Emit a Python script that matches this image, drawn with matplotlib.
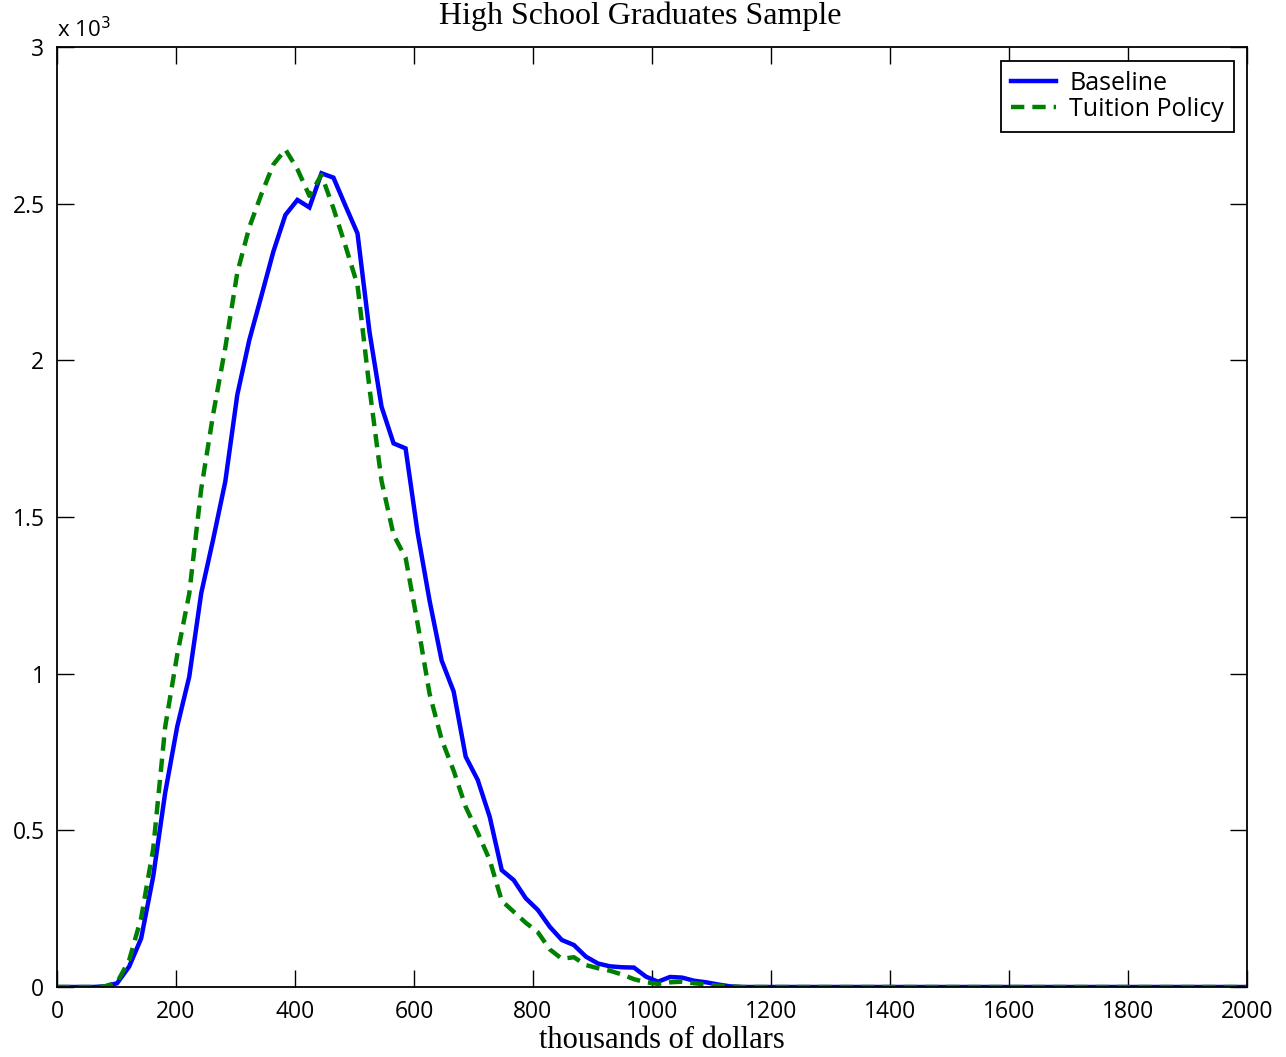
import numpy as np
import matplotlib
matplotlib.use("Agg")
import matplotlib.pyplot as plt
from matplotlib.ticker import FuncFormatter

# income grid (thousands of dollars)
income = np.linspace(0, 2000, 100)

baseline = [0, 0, 0, 0, 2, 12, 65, 155, 352, 620, 831, 990, 1257, 1430, 1613,
            1890, 2065, 2205, 2347, 2464, 2512, 2488, 2597, 2583, 2493, 2405,
            2090, 1852, 1735, 1719, 1450, 1232, 1042, 943, 735, 661, 543, 373,
            341, 283, 246, 192, 150, 134, 97, 75, 66, 63, 62, 33, 17, 32, 30,
            20, 15, 8, 2] + [0] * 43

tuition = [0, 0, 0, 0, 2, 15, 85, 220, 440, 830, 1060, 1255, 1590, 1830, 2040,
           2280, 2425, 2530, 2625, 2673, 2610, 2525, 2592, 2485, 2365, 2240,
           1910, 1615, 1443, 1370, 1160, 935, 790, 690, 575, 493, 405, 275,
           240, 205, 175, 120, 90, 95, 70, 60, 52, 40, 25, 15, 10, 15, 17,
           12, 8, 4, 2] + [0] * 43

xticks = [0, 200, 400, 600, 800, 1000, 1200, 1400, 1600, 1800, 2000]
yticks = [0, 0.5, 1, 1.5, 2, 2.5, 3]

W, H = 1286, 1057
fig = plt.figure(figsize=(W / 100, H / 100), dpi=100)
ax = fig.add_axes([57 / W, 1 - 987 / H, 1190 / W, 940 / H])

tick_font = ["Open Sans", "DejaVu Sans"]
serif_font = ["Liberation Serif", "DejaVu Serif"]

ax.plot(income, np.array(baseline) / 1000.0, color=(0, 0, 1), lw=3.2,
        solid_joinstyle="miter", label="Baseline")
ax.plot(income, np.array(tuition) / 1000.0, color=(0, 0.5, 0), lw=3.2,
        linestyle=(0, (3.0, 1.8)), label="Tuition Policy")

ax.set_xlim(0, 2000)
ax.set_ylim(0, 3)
ax.set_xticks(xticks)
ax.set_yticks(yticks)
ax.yaxis.set_major_formatter(FuncFormatter(lambda v, p: "%g" % v))
ax.tick_params(direction="in", length=12, width=1, top=True, right=True,
               labelsize=16.5)
ax.tick_params(axis="x", pad=9)
ax.tick_params(axis="y", pad=9)
for lab in ax.get_xticklabels() + ax.get_yticklabels():
    lab.set_family(tick_font)
for s in ax.spines.values():
    s.set_linewidth(1.3)

fig.text(57 / W, 1 - 37 / H, r"x 10$^3$", fontsize=16, family=tick_font,
         ha="left", va="baseline")

fig.text(662 / W, 1 - 1048 / H, "thousands of dollars", fontsize=22,
         family=serif_font, ha="center", va="baseline")
fig.text(640 / W, 1 - 24 / H, "High School Graduates Sample", fontsize=23,
         family=serif_font, ha="center", va="baseline")

leg = ax.legend(loc="upper right",
                bbox_to_anchor=((1234 - 57) / 1190, (987 - 61) / 940),
                borderaxespad=0, fancybox=False, edgecolor="black", framealpha=1,
                prop={"family": tick_font, "size": 18}, handlelength=1.8,
                handletextpad=0.55, borderpad=0.4, labelspacing=0.02)
leg.get_frame().set_linewidth(1.3)

fig.savefig("out.png", dpi=100)
